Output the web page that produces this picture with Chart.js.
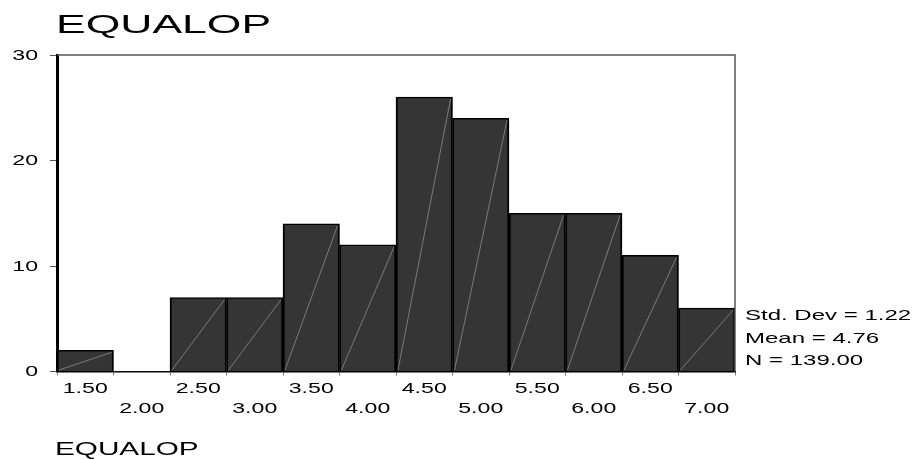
<!DOCTYPE html>
<html><head><meta charset="utf-8">
<script src="https://cdn.jsdelivr.net/npm/chart.js@4/dist/chart.umd.min.js"></script>
<style>html,body{margin:0;padding:0;background:#fff}#wrap{width:915px;height:459px}</style>
</head><body><div id="wrap"><canvas id="c"></canvas></div>
<script>
const categories = ['1.50','2.00','2.50','3.00','3.50','4.00','4.50','5.00','5.50','6.00','6.50','7.00'];
const counts = [2,0,7,7,14,12,26,24,15,15,11,6];
const yTicks = [0,10,20,30];
const chartTitle = 'EQUALOP';
const xTitle = 'EQUALOP';
const statsLines = ['Std. Dev = 1.22','Mean = 4.76','N = 139.00'];
const FONT = '"Liberation Sans", Arial, sans-serif';

function stretchText(ctx, text, x, y, size, sx, align, baseline){
  ctx.save();
  ctx.font = size + 'px ' + FONT;
  ctx.textAlign = align; ctx.textBaseline = baseline;
  ctx.translate(x, y); ctx.scale(sx, 1);
  ctx.fillText(text, 0, 0);
  ctx.restore();
}

const decor = {
  id:'decor',
  afterDatasetsDraw(chart){
    const ctx = chart.ctx, a = chart.chartArea;
    const meta = chart.getDatasetMeta(0);
    ctx.save();
    ctx.strokeStyle = '#8c8c8c'; ctx.lineWidth = 0.8;
    meta.data.forEach(b=>{
      const p = b.getProps(['x','y','base','width'],true);
      if (Math.abs(p.base-p.y) < 1) return;
      ctx.beginPath();
      ctx.moveTo(p.x-p.width/2+2, p.base-1);
      ctx.lineTo(p.x+p.width/2-2, p.y+2);
      ctx.stroke();
    });
    ctx.strokeStyle = '#555'; ctx.lineWidth = 1.5;
    ctx.beginPath();
    ctx.moveTo(a.left, a.top); ctx.lineTo(a.right, a.top); ctx.lineTo(a.right, a.bottom);
    ctx.stroke();
    ctx.restore();
  },
  afterDraw(chart){
    const ctx = chart.ctx, a = chart.chartArea;
    const xs = chart.scales.x, ys = chart.scales.y;
    ctx.save();
    ctx.fillStyle = '#000';
    stretchText(ctx, chartTitle, a.left - 1, 33, 25, 1.78, 'left', 'alphabetic');
    statsLines.forEach((s,i)=> stretchText(ctx, s, a.right + 10, 320 + i*22.5, 15, 1.6, 'left', 'alphabetic'));
    categories.forEach((c,i)=>{
      const x = xs.getPixelForTick(i);
      stretchText(ctx, c, x, i%2===0 ? 392.5 : 413, 14, 1.65, 'center', 'alphabetic');
    });
    yTicks.forEach(v=>{
      stretchText(ctx, String(v), a.left - 19, ys.getPixelForValue(v) + 1, 14, 1.65, 'right', 'middle');
    });
    stretchText(ctx, xTitle, a.left - 2, 455, 18, 1.65, 'left', 'alphabetic');
    ctx.restore();
  }
};

new Chart(document.getElementById('c'), {
  type:'bar',
  data:{ labels: categories, datasets:[{ data: counts, backgroundColor:'#353535', borderColor:'#000',
    borderWidth:(c)=> c.raw===0 ? 0 : {top:1.5,bottom:0,left:2,right:2}, barPercentage:1, categoryPercentage:1 }]},
  options:{
    responsive:true, maintainAspectRatio:false, animation:false,
    layout:{ padding:{ left:50, right:180, top:55, bottom:83.5 } },
    plugins:{ legend:{display:false}, tooltip:{enabled:false}, title:{display:false} },
    scales:{
      x:{
        grid:{ drawOnChartArea:false, drawTicks:true, tickLength:4, color:'#777' },
        border:{ color:'#000', width:1.5 },
        ticks:{ display:false, autoSkip:false }
      },
      y:{
        min:0, max:30,
        afterBuildTicks:(s)=>{ s.ticks = yTicks.map(v=>({value:v})); },
        grid:{ drawOnChartArea:false, drawTicks:true, tickLength:7, color:'#555' },
        border:{ color:'#000', width:3 },
        ticks:{ display:false }
      }
    }
  },
  plugins:[decor]
});
</script>
</body></html>
